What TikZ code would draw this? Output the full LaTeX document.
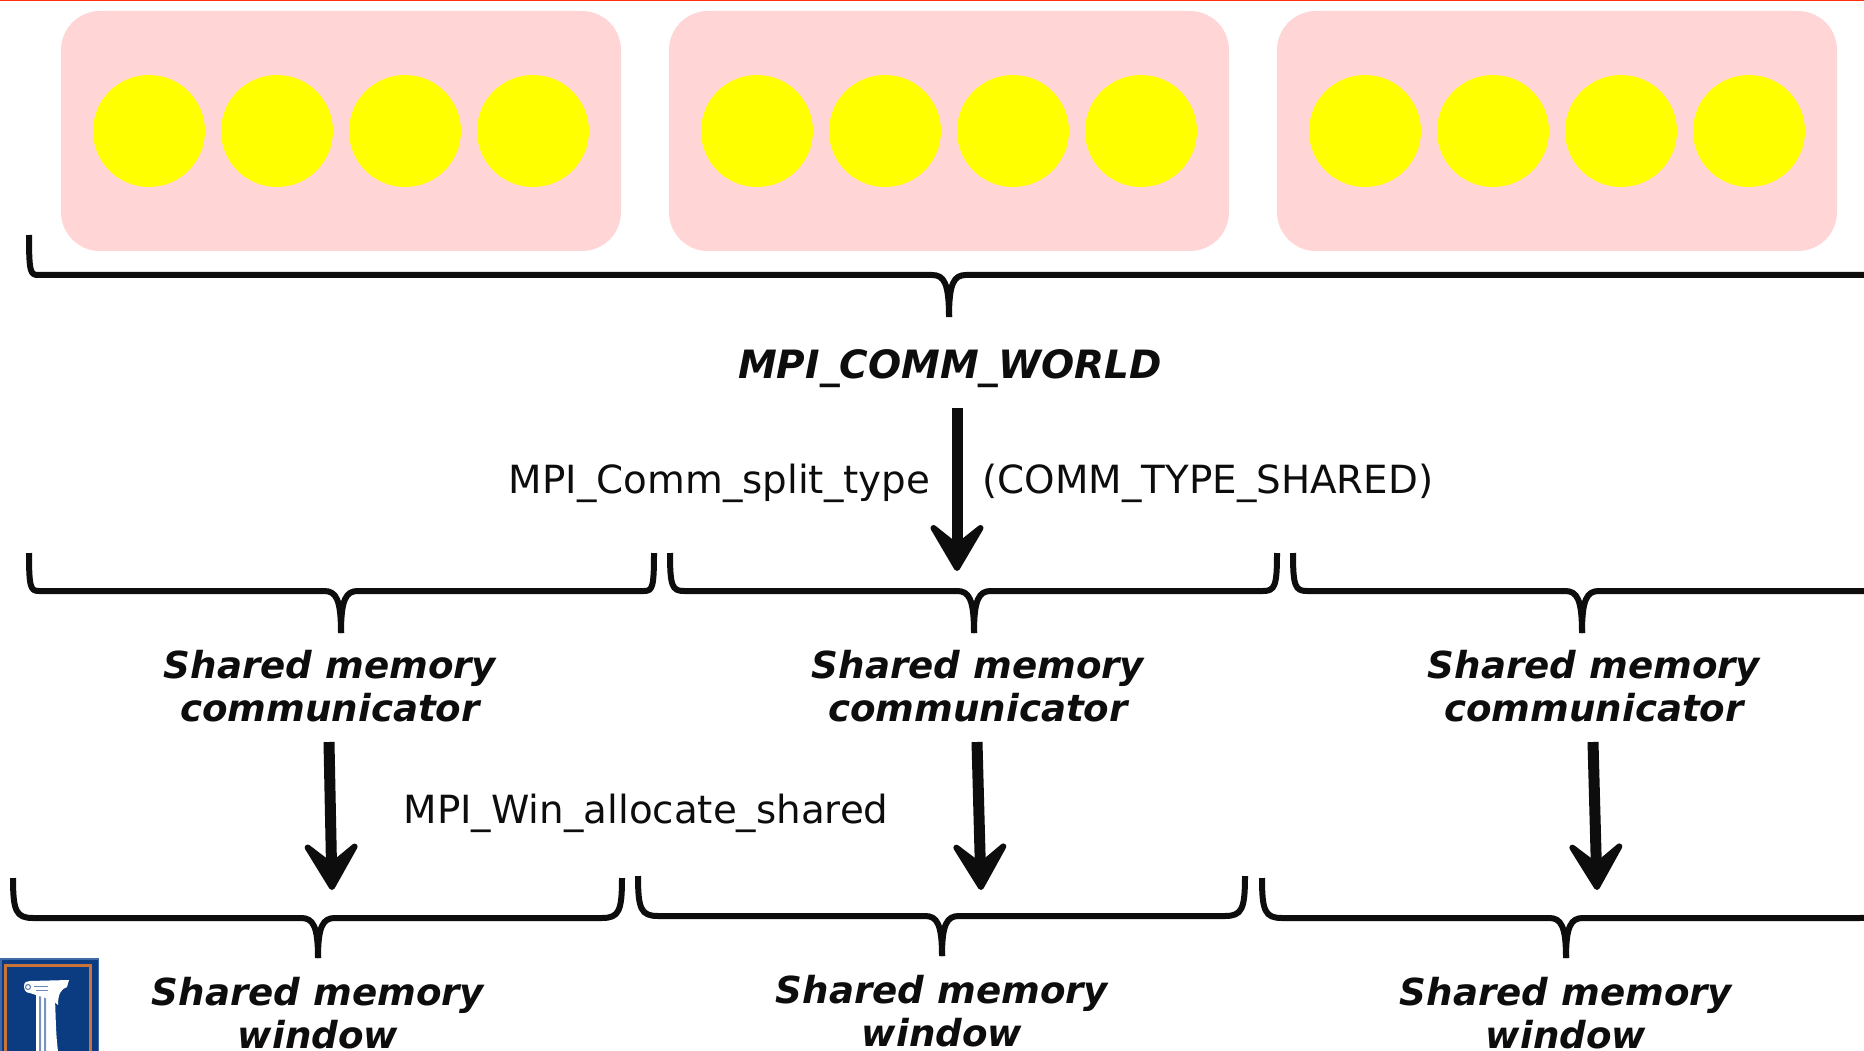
\documentclass[tikz,border=0pt]{standalone}
\usepackage{fontspec}
\setmainfont{DejaVu Sans}
\usetikzlibrary{arrows.meta}
\definecolor{pinkbox}{HTML}{FFD5D5}
\definecolor{coreyellow}{HTML}{FFFF00}
\definecolor{ink}{HTML}{0D0D0D}
\definecolor{redline}{HTML}{FF3010}
\definecolor{logoblue}{HTML}{0B3B80}
\definecolor{logoedge}{HTML}{3F6AA5}
\definecolor{logoorange}{HTML}{C8743A}
\tikzset{
  x=1pt,y=-1pt,
  nodebox/.style={fill=pinkbox,draw=none,rounded corners=39pt},
  core/.style={circle,fill=coreyellow,draw=none,minimum size=112pt,inner sep=0pt},
  bracket/.style={draw=ink,line width=6pt,line join=round},
  bigarrow/.style={draw=ink,line width=11pt,-{Stealth[length=58pt,width=68pt,inset=27pt,round,line width=6pt]},shorten >=0pt},
  titletext/.style={font=\fontsize{37.2}{43}\selectfont\bfseries\itshape,text=ink,align=center,inner sep=0pt},
  worldtext/.style={font=\fontsize{39}{47}\selectfont\bfseries\itshape,text=ink,inner sep=0pt},
  calltext/.style={font=\fontsize{38.8}{47}\selectfont,text=ink,inner sep=0pt},
}
\newcommand{\BracePath}[7]{% x1 x2 xm ytop yline ytip r
  \draw[bracket] (#1,#4) .. controls (#1,#5-0.35*#7) and (#1+0.15*#7,#5) .. (#1+#7,#5)
    -- (#3-17,#5) .. controls (#3-5,#5) and (#3,#5+8) .. (#3,#6);
  \draw[bracket] (#3,#6) .. controls (#3,#5+8) and (#3+5,#5) .. (#3+17,#5)
    -- (#2-#7,#5) .. controls (#2-0.15*#7,#5) and (#2,#5-0.35*#7) .. (#2,#4);
}
\begin{document}
\begin{tikzpicture}
\useasboundingbox (0,0) rectangle (1864,1051);
\clip (0,0) rectangle (1864,1051);
\fill[white] (0,0) rectangle (1864,1051);
\fill[redline] (0,0) rectangle (1864,1.5);
% nodes with cores
\foreach \off/\n in {0/a,608/b,1216/c}{
  \path[nodebox] (61+\off,11) rectangle (621+\off,251);
  \foreach \cx/\m in {149/1,277/2,405/3,533/4}
    \node[core] (core\n\m) at (\cx+\off,131) {};
}
% braces
\BracePath{29}{1895}{949}{235}{275}{317}{9}
\BracePath{29}{654}{341}{553}{591}{633}{10}
\BracePath{670}{1277}{974}{553}{591}{633}{14}
\BracePath{1293}{1895}{1582}{553}{591}{633}{14}
\BracePath{13}{622}{318}{878}{918}{958}{20}
\BracePath{638}{1245}{942}{876}{916}{956}{20}
\BracePath{1262}{1880}{1566}{878}{918}{958}{20}
% labels
\node[worldtext] (world) at (950,369) {MPI\_COMM\_WORLD};
\node[calltext] (split) at (719.5,483) {MPI\_Comm\_split\_type};
\node[calltext] (shared) at (1208,483) {(COMM\_TYPE\_SHARED)};
\node[calltext] (winalloc) at (646,813) {MPI\_Win\_allocate\_shared};
\node[titletext] (commA) at (330,686) {Shared memory\\communicator};
\node[titletext] (commB) at (978,686) {Shared memory\\communicator};
\node[titletext] (commC) at (1594,686) {Shared memory\\communicator};
\node[titletext,anchor=north] (winA) at (318,977) {Shared memory\\window};
\node[titletext,anchor=north] (winB) at (942,975) {Shared memory\\window};
\node[titletext,anchor=north] (winC) at (1566,977) {Shared memory\\window};
% arrows
\coordinate (w0) at (957,408); \coordinate (w1) at (957,571);
\coordinate (a0) at (329,742); \coordinate (a1) at (332,890);
\coordinate (b0) at (977,742); \coordinate (b1) at (981,890);
\coordinate (c0) at (1593,742); \coordinate (c1) at (1597,890);
\draw[bigarrow] (w0) -- (w1);
\draw[bigarrow] (a0) -- (a1);
\draw[bigarrow] (b0) -- (b1);
\draw[bigarrow] (c0) -- (c1);
% logo
\fill[logoedge] (0,958) rectangle (99,1051);
\fill[logoblue] (1.5,959.5) rectangle (97.5,1051);
\draw[logoorange,line width=3pt] (5.5,965) rectangle (90.5,1060);
\fill[white] (36,990) -- (54,990) .. controls (56,1000) and (55,1030) .. (58,1051) -- (36,1051) -- cycle;
\fill[logoblue!55!white] (39,995) rectangle (41,1051) (44,995) rectangle (46,1051);
\fill[white] (24,986) .. controls (24,982) and (27,981) .. (30,981) -- (69,980) -- (67,987) .. controls (61,989) and (58,994) .. (58,1005) -- (52,1000) -- (36,995) -- (30,993) .. controls (26,993) and (24,990) .. (24,986) -- cycle;
\draw[logoblue!70!white,line width=1pt] (28,987) circle (2.5);
\draw[logoblue!60!white,line width=1pt] (34,986) -- (48,986) (36,990) -- (48,990);
\end{tikzpicture}
\end{document}
